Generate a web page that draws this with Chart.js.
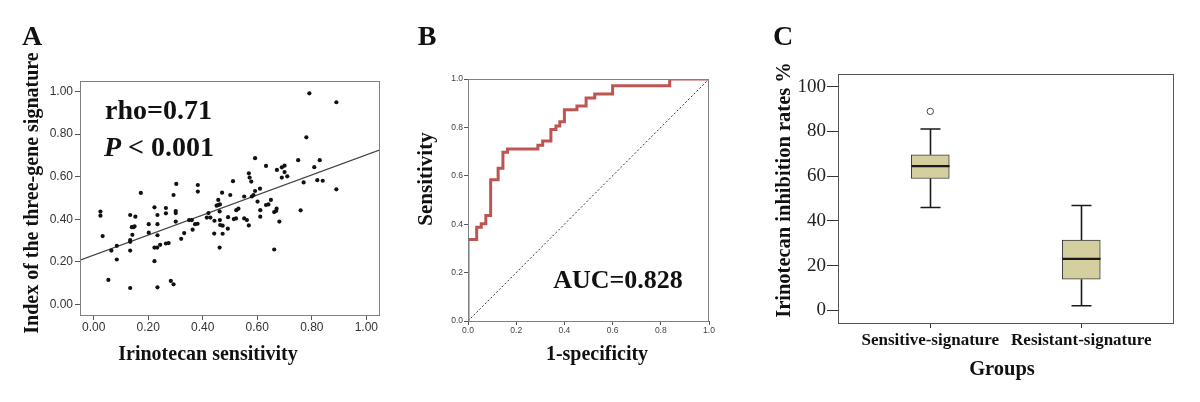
<!DOCTYPE html>
<html>
<head>
<meta charset="utf-8">
<script src="https://cdn.jsdelivr.net/npm/chart.js@4/dist/chart.umd.min.js"></script>
<style>
  html, body { margin: 0; padding: 0; background: #fff; }
  #wrap { position: relative; width: 1200px; height: 402px; overflow: hidden; background: #fff; }
  canvas { position: absolute; top: 0; }
  .t {
    position: absolute; white-space: nowrap; line-height: 1;
    font-family: "Liberation Serif", "Times New Roman", serif; font-weight: bold; color: #111;
    transform: translate(-50%, -50%);
  }
  .rot { transform: translate(-50%, -50%) rotate(-90deg); }
  .l { transform: translate(0, -50%); }
</style>
</head>
<body>
<div id="wrap">
  <canvas id="chartA" width="400" height="402" style="left:0px"></canvas>
  <canvas id="chartB" width="330" height="402" style="left:400px"></canvas>
  <canvas id="chartC" width="470" height="402" style="left:730px"></canvas>

  <div class="t" style="left:32px; top:36px; font-size:28px">A</div>
  <div class="t l" style="left:105px; top:110px; font-size:28px">rho=0.71</div>
  <div class="t l" style="left:104px; top:147px; font-size:28px"><i>P</i> &lt; 0.001</div>
  <div class="t rot" style="left:31px; top:193px; font-size:20px">Index of the three-gene signature</div>
  <div class="t" style="left:208px; top:353px; font-size:20px">Irinotecan sensitivity</div>

  <div class="t" style="left:427px; top:36px; font-size:28px">B</div>
  <div class="t rot" style="left:425px; top:179px; font-size:21px">Sensitivity</div>
  <div class="t" style="left:597px; top:353px; font-size:20px">1-specificity</div>
  <div class="t" style="left:618px; top:280px; font-size:26px">AUC=0.828</div>

  <div class="t" style="left:783px; top:36px; font-size:28px">C</div>
  <div class="t rot" style="left:783px; top:190px; font-size:20.5px">Irinotecan inhibition rates %</div>
  <div class="t" style="left:1002px; top:368px; font-size:20.5px">Groups</div>
</div>

<script>
// ---- A: scatter (Irinotecan sensitivity vs index of three-gene signature)
const irinoSens = [
  0.025, 0.025, 0.033, 0.054, 0.065, 0.085, 0.085, 0.134, 0.134, 0.134,
  0.134, 0.134, 0.140, 0.146, 0.150, 0.142, 0.153, 0.173, 0.202, 0.202,
  0.223, 0.223, 0.234, 0.234, 0.234, 0.234, 0.223, 0.233, 0.244, 0.265,
  0.265, 0.265, 0.275, 0.283, 0.293, 0.303, 0.293, 0.301, 0.301, 0.301,
  0.321, 0.332, 0.350, 0.360, 0.363, 0.372, 0.381, 0.382, 0.382, 0.415,
  0.421, 0.428, 0.442, 0.443, 0.451, 0.457, 0.457, 0.463, 0.462, 0.463,
  0.464, 0.473, 0.462, 0.473, 0.471, 0.492, 0.493, 0.501, 0.511, 0.514,
  0.522, 0.523, 0.531, 0.552, 0.552, 0.562, 0.569, 0.569, 0.572, 0.578,
  0.580, 0.586, 0.592, 0.592, 0.601, 0.610, 0.611, 0.611, 0.632, 0.632,
  0.641, 0.650, 0.662, 0.669, 0.671, 0.662, 0.672, 0.681, 0.690, 0.700,
  0.700, 0.690, 0.710, 0.750, 0.759, 0.770, 0.780, 0.791, 0.809, 0.820,
  0.829, 0.840, 0.890, 0.890
];
const sigIndex = [
  0.436, 0.417, 0.321, 0.115, 0.253, 0.275, 0.211, 0.420, 0.302, 0.294,
  0.253, 0.077, 0.363, 0.363, 0.367, 0.327, 0.412, 0.524, 0.377, 0.337,
  0.456, 0.203, 0.420, 0.377, 0.325, 0.080, 0.267, 0.267, 0.280, 0.453,
  0.428, 0.286, 0.288, 0.110, 0.094, 0.566, 0.514, 0.439, 0.429, 0.389,
  0.308, 0.335, 0.396, 0.396, 0.351, 0.377, 0.379, 0.561, 0.530, 0.408,
  0.429, 0.408, 0.333, 0.393, 0.464, 0.491, 0.467, 0.470, 0.437, 0.396,
  0.373, 0.370, 0.267, 0.332, 0.525, 0.356, 0.410, 0.514, 0.579, 0.401,
  0.404, 0.443, 0.450, 0.507, 0.404, 0.396, 0.371, 0.616, 0.596, 0.577,
  0.507, 0.514, 0.687, 0.533, 0.483, 0.544, 0.443, 0.412, 0.651, 0.467,
  0.470, 0.491, 0.434, 0.439, 0.450, 0.258, 0.632, 0.389, 0.644, 0.652,
  0.622, 0.596, 0.602, 0.678, 0.442, 0.573, 0.785, 0.992, 0.645, 0.584,
  0.678, 0.581, 0.950, 0.541
];
const fitX = [-0.05, 1.05];
const fitY = [0.208, 0.726];
const ticksA = [0, 0.2, 0.4, 0.6, 0.8, 1.0];

// ---- B: ROC curve (step corners)
const rocFpr = [0, 0, 0.036, 0.055, 0.074, 0.094, 0.125, 0.145, 0.164, 0.290, 0.310,
  0.344, 0.365, 0.381, 0.400, 0.452, 0.490, 0.526, 0.600, 0.837, 1.0];
const rocTpr = [0, 0.337, 0.387, 0.402, 0.436, 0.584, 0.631, 0.697, 0.711, 0.726, 0.744,
  0.791, 0.806, 0.823, 0.873, 0.888, 0.921, 0.938, 0.972, 1.0, 1.0];
const refLine = [0, 1];
const ticksB = [0, 0.2, 0.4, 0.6, 0.8, 1.0];

// ---- C: box plot
const groups = ['Sensitive-signature', 'Resistant-signature'];
const whiskerLow = [46.0, 2.1];
const q1 = [59.0, 14.0];
const median = [64.5, 23.1];
const q3 = [69.6, 31.5];
const whiskerHigh = [81.1, 46.9];
const outlierGroup = [0];
const outlierValue = [89.0];
const ticksC = [0, 20, 40, 60, 80, 100];

const SERIF = '"Liberation Serif", "Times New Roman", serif';
const SANS = '"Liberation Sans", Arial, sans-serif';

// draws the box around the plot area
const framePlugin = {
  id: 'frame',
  afterDatasetsDraw(chart, args, opts) {
    const a = chart.chartArea, ctx = chart.ctx;
    ctx.save();
    ctx.strokeStyle = opts.color || '#777';
    ctx.lineWidth = 1;
    ctx.strokeRect(a.left + 0.5, a.top + 0.5, a.right - a.left - 1, a.bottom - a.top);
    ctx.restore();
  }
};

function fixTicks(list) {
  return s => { s.ticks = list.map(v => ({ value: v })); };
}

// A
new Chart(document.getElementById('chartA'), {
  type: 'scatter',
  data: {
    datasets: [
      {
        data: irinoSens.map((x, i) => ({ x: x, y: sigIndex[i] })),
        pointRadius: 2.1, pointBackgroundColor: '#111', pointBorderWidth: 0
      },
      {
        type: 'line',
        data: fitX.map((x, i) => ({ x: x, y: fitY[i] })),
        borderColor: '#444', borderWidth: 1.2, pointRadius: 0, fill: false
      }
    ]
  },
  options: {
    responsive: false, animation: false,
    layout: { autoPadding: false, padding: { left: 0, top: 81, right: 20, bottom: 0 } },
    plugins: { legend: { display: false }, tooltip: { enabled: false }, frame: { color: '#808080' } },
    scales: {
      x: {
        type: 'linear', min: -0.05, max: 1.05,
        afterBuildTicks: fixTicks(ticksA),
        afterFit: s => { s.height = 87; },
        border: { display: false },
        grid: { drawOnChartArea: false, tickLength: 5, color: '#555' },
        ticks: { padding: 0, color: '#333', font: { family: SANS, size: 12 }, callback: v => v.toFixed(2) }
      },
      y: {
        min: -0.05, max: 1.05,
        afterBuildTicks: fixTicks(ticksA),
        afterFit: s => { s.width = 80; },
        border: { display: false },
        grid: { drawOnChartArea: false, tickLength: 5, color: '#555' },
        ticks: { padding: 2, color: '#333', font: { family: SANS, size: 12 }, callback: v => v.toFixed(2) }
      }
    }
  },
  plugins: [framePlugin]
});

// B
new Chart(document.getElementById('chartB'), {
  type: 'line',
  data: {
    datasets: [
      {
        data: refLine.map(v => ({ x: v, y: v })),
        borderColor: '#333', borderWidth: 1, borderDash: [2, 2], pointRadius: 0
      },
      {
        data: rocFpr.map((x, i) => ({ x: x, y: rocTpr[i] })),
        stepped: 'before', borderColor: '#bd5552', borderWidth: 3, pointRadius: 0
      },
      {
        data: rocFpr.map((x, i) => ({ x: x, y: rocTpr[i] })),
        stepped: 'before', borderColor: '#f2d4d2', borderWidth: 0.8, pointRadius: 0
      }
    ]
  },
  options: {
    responsive: false, animation: false,
    layout: { autoPadding: false, padding: { left: 0, top: 79, right: 21, bottom: 0 } },
    plugins: { legend: { display: false }, tooltip: { enabled: false }, frame: { color: '#808080' } },
    scales: {
      x: {
        type: 'linear', min: 0, max: 1,
        afterBuildTicks: fixTicks(ticksB),
        afterFit: s => { s.height = 81; },
        border: { display: false },
        grid: { drawOnChartArea: false, tickLength: 4, color: '#555' },
        ticks: { padding: 1, color: '#444', font: { family: SANS, size: 8.5 }, callback: v => v.toFixed(1) }
      },
      y: {
        type: 'linear', min: 0, max: 1,
        afterBuildTicks: fixTicks(ticksB),
        afterFit: s => { s.width = 68; },
        border: { display: false },
        grid: { drawOnChartArea: false, tickLength: 4, color: '#555' },
        ticks: { padding: 1, color: '#444', font: { family: SANS, size: 8.5 }, callback: v => v.toFixed(1) }
      }
    }
  },
  plugins: [framePlugin]
});

// C: whiskers, caps and medians drawn through the scales
const boxPlugin = {
  id: 'boxParts',
  afterDatasetsDraw(chart) {
    const ctx = chart.ctx, xs = chart.scales.x, ys = chart.scales.y;
    ctx.save();
    groups.forEach((g, i) => {
      const cx = Math.round(xs.getPixelForValue(i)) + 0.5;
      const lo = ys.getPixelForValue(whiskerLow[i]);
      const hi = ys.getPixelForValue(whiskerHigh[i]);
      const b1 = ys.getPixelForValue(q1[i]);
      const b3 = ys.getPixelForValue(q3[i]);
      const md = ys.getPixelForValue(median[i]);
      ctx.strokeStyle = '#1a1a1a';
      ctx.lineWidth = 1.6;
      ctx.beginPath();
      ctx.moveTo(cx, b3); ctx.lineTo(cx, hi);
      ctx.moveTo(cx - 10, hi); ctx.lineTo(cx + 10, hi);
      ctx.moveTo(cx, b1); ctx.lineTo(cx, lo);
      ctx.moveTo(cx - 10, lo); ctx.lineTo(cx + 10, lo);
      ctx.stroke();
      ctx.lineWidth = 2.2;
      ctx.beginPath();
      ctx.moveTo(cx - 19, md); ctx.lineTo(cx + 19, md);
      ctx.stroke();
    });
    ctx.restore();
  }
};

new Chart(document.getElementById('chartC'), {
  type: 'bar',
  data: {
    datasets: [
      {
        data: groups.map((g, i) => ({ x: i, y: [q1[i], q3[i]] })),
        backgroundColor: '#d4cf9f', borderColor: '#3a3a3a', borderWidth: 1,
        borderSkipped: false, barThickness: 38
      },
      {
        type: 'scatter',
        data: outlierGroup.map((g, i) => ({ x: g, y: outlierValue[i] })),
        pointRadius: 3.2, pointBackgroundColor: '#fff', pointBorderColor: '#444', pointBorderWidth: 1
      }
    ]
  },
  options: {
    responsive: false, animation: false,
    layout: { autoPadding: false, padding: { left: 0, top: 74, right: 26, bottom: 0 } },
    plugins: { legend: { display: false }, tooltip: { enabled: false }, frame: { color: '#555' } },
    scales: {
      x: {
        type: 'linear', min: -0.611, max: 1.614, offset: false,
        afterBuildTicks: fixTicks(groups.map((g, i) => i)),
        afterFit: s => { s.height = 79; },
        border: { display: false },
        grid: { drawOnChartArea: false, offset: false, tickLength: 5, color: '#333' },
        ticks: {
          padding: 2, color: '#111', maxRotation: 0, autoSkip: false,
          font: { family: SERIF, size: 17, weight: 'bold' },
          callback: v => groups[v]
        }
      },
      y: {
        min: -5.6, max: 105.7,
        afterBuildTicks: fixTicks(ticksC),
        afterFit: s => { s.width = 108; },
        border: { display: false },
        grid: { drawOnChartArea: false, tickLength: 11, color: '#333' },
        ticks: { padding: 1, color: '#222', font: { family: SERIF, size: 19 } }
      }
    }
  },
  plugins: [framePlugin, boxPlugin]
});
</script>
</body>
</html>
